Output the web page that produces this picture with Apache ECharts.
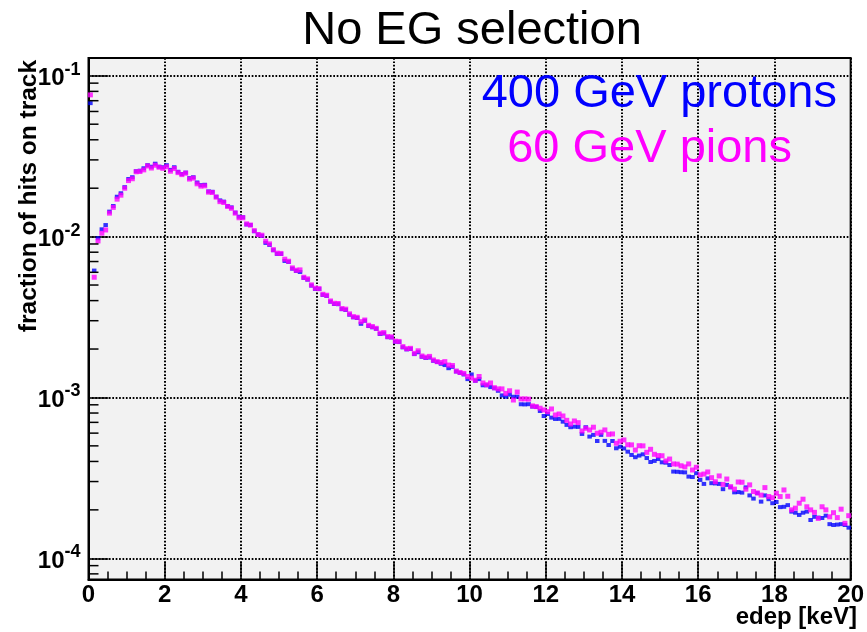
<!DOCTYPE html>
<html>
<head>
<meta charset="utf-8">
<title>No EG selection</title>
<script src="https://cdn.jsdelivr.net/npm/echarts@6/dist/echarts.min.js"></script>
<style>
  html, body { margin: 0; padding: 0; background: #fff; }
  #chart { width: 867px; height: 632px; }
</style>
</head>
<body>
<div id="chart"></div>
<script>
// histogram bins: 200 bins of 0.1 keV from 0 to 20 keV
const binWidth = 0.1

// 400 GeV protons (blue)
const protons = [
  0.0676, 0.00615, 0.00977, 0.0111, 0.0118, 0.0143, 0.0155, 0.0177, 0.0186, 0.0203,
  0.0228, 0.0234, 0.0255, 0.0257, 0.0266, 0.0278, 0.0272, 0.0284, 0.0272, 0.0270,
  0.0278, 0.0260, 0.0270, 0.0253, 0.0245, 0.0250, 0.0231, 0.0234, 0.0217, 0.0209,
  0.0210, 0.0191, 0.0190, 0.0177, 0.0168, 0.0165, 0.0155, 0.0152, 0.0141, 0.0133,
  0.0132, 0.0119, 0.0118, 0.0108, 0.0103, 0.0101, 0.00914, 0.00888, 0.00823, 0.00781,
  0.00780, 0.00706, 0.00696, 0.00632, 0.00612, 0.00603, 0.00554, 0.00540, 0.00496, 0.00473,
  0.00472, 0.00434, 0.00428, 0.00394, 0.00381, 0.00380, 0.00354, 0.00350, 0.00327, 0.00315,
  0.00312, 0.00287, 0.00300, 0.00278, 0.00273, 0.00267, 0.00248, 0.00250, 0.00237, 0.00236,
  0.00222, 0.00221, 0.00205, 0.00199, 0.00200, 0.00186, 0.00191, 0.00179, 0.00176, 0.00177,
  0.00169, 0.00166, 0.00162, 0.00159, 0.00152, 0.00155, 0.00145, 0.00142, 0.00139, 0.00130,
  0.00139, 0.00127, 0.00130, 0.00119, 0.00119, 0.00116, 0.00114, 0.00110, 0.00103, 0.00101,
  0.00104, 0.00101, 0.00101, 0.000907, 0.000905, 0.000908, 0.000877, 0.000873, 0.000824, 0.000767,
  0.000789, 0.000749, 0.000735, 0.000736, 0.000707, 0.000675, 0.000653, 0.000658, 0.000656, 0.000593,
  0.000653, 0.000571, 0.000585, 0.000536, 0.000585, 0.000537, 0.000506, 0.000536, 0.000483, 0.000494,
  0.000482, 0.000460, 0.000439, 0.000425, 0.000435, 0.000443, 0.000420, 0.000397, 0.000403, 0.000414,
  0.000395, 0.000393, 0.000380, 0.000346, 0.000345, 0.000343, 0.000342, 0.000322, 0.000320, 0.000338,
  0.000307, 0.000290, 0.000314, 0.000293, 0.000292, 0.000290, 0.000269, 0.000286, 0.000276, 0.000257,
  0.000258, 0.000256, 0.000276, 0.000246, 0.000235, 0.000254, 0.000225, 0.000246, 0.000233, 0.000220,
  0.000224, 0.000208, 0.000209, 0.000214, 0.000195, 0.000192, 0.000186, 0.000192, 0.000195, 0.000173,
  0.000181, 0.000179, 0.000178, 0.000184, 0.000163, 0.000161, 0.000162, 0.000163, 0.000161, 0.000155
]

// 60 GeV pions (magenta)
const pions = [
  0.0761, 0.00559, 0.00940, 0.0105, 0.0110, 0.0140, 0.0152, 0.0171, 0.0181, 0.0200,
  0.0223, 0.0229, 0.0253, 0.0254, 0.0260, 0.0275, 0.0267, 0.0278, 0.0270, 0.0266,
  0.0272, 0.0255, 0.0265, 0.0250, 0.0243, 0.0248, 0.0228, 0.0231, 0.0213, 0.0206,
  0.0207, 0.0189, 0.0188, 0.0176, 0.0165, 0.0163, 0.0154, 0.0150, 0.0140, 0.0131,
  0.0131, 0.0120, 0.0118, 0.0109, 0.0103, 0.0102, 0.00936, 0.00901, 0.00830, 0.00789,
  0.00786, 0.00724, 0.00703, 0.00639, 0.00618, 0.00621, 0.00559, 0.00546, 0.00501, 0.00478,
  0.00475, 0.00438, 0.00432, 0.00398, 0.00385, 0.00384, 0.00357, 0.00354, 0.00331, 0.00318,
  0.00315, 0.00296, 0.00303, 0.00281, 0.00276, 0.00269, 0.00251, 0.00253, 0.00239, 0.00238,
  0.00224, 0.00223, 0.00207, 0.00201, 0.00202, 0.00188, 0.00195, 0.00181, 0.00178, 0.00180,
  0.00171, 0.00167, 0.00165, 0.00167, 0.00159, 0.00158, 0.00146, 0.00143, 0.00141, 0.00135,
  0.00132, 0.00128, 0.00135, 0.00123, 0.00120, 0.00123, 0.00115, 0.00113, 0.00113, 0.00106,
  0.00110, 0.000964, 0.00108, 0.000979, 0.000980, 0.000976, 0.000886, 0.000877, 0.000857, 0.000836,
  0.000816, 0.000848, 0.000778, 0.000789, 0.000767, 0.000721, 0.000684, 0.000714, 0.000697, 0.000619,
  0.000643, 0.000628, 0.000653, 0.000599, 0.000608, 0.000628, 0.000590, 0.000593, 0.000519, 0.000534,
  0.000544, 0.000508, 0.000507, 0.000471, 0.000501, 0.000500, 0.000456, 0.000476, 0.000443, 0.000435,
  0.000434, 0.000403, 0.000414, 0.000386, 0.000385, 0.000376, 0.000370, 0.000386, 0.000354, 0.000368,
  0.000330, 0.000334, 0.000344, 0.000317, 0.000299, 0.000325, 0.000288, 0.000311, 0.000279, 0.000269,
  0.000298, 0.000297, 0.000269, 0.000286, 0.000260, 0.000255, 0.000247, 0.000275, 0.000242, 0.000238,
  0.000254, 0.000242, 0.000266, 0.000243, 0.000200, 0.000205, 0.000220, 0.000233, 0.000209, 0.000200,
  0.000193, 0.000177, 0.000209, 0.000200, 0.000181, 0.000192, 0.000179, 0.000202, 0.000165, 0.000184
]

// minor ticks of the log y axis (2..9 x 10^n)
const yMinorTicks = [
  8e-5, 9e-5,
  2e-4, 3e-4, 4e-4, 5e-4, 6e-4, 7e-4, 8e-4, 9e-4,
  2e-3, 3e-3, 4e-3, 5e-3, 6e-3, 7e-3, 8e-3, 9e-3,
  2e-2, 3e-2, 4e-2, 5e-2, 6e-2, 7e-2, 8e-2, 9e-2
]

const yRange = [7.38e-5, 0.129]
const xRange = [0, 20]

const FONT = "'Liberation Sans', Arial, Helvetica, sans-serif"

const binCenters = protons.map((_, i) => +((i + 0.5) * binWidth).toFixed(2))
const toPoints = (values) => values.map((v, i) => [binCenters[i], v])

const chart = echarts.init(document.getElementById('chart'), null, { renderer: 'canvas' })

const dotted = { color: '#000', width: 2, type: [1.7, 1.7] }

chart.setOption({
  animation: false,
  backgroundColor: '#fff',
  grid: {
    left: 88.5,
    right: 12,
    top: 58,
    bottom: 52.5,
    show: true,
    backgroundColor: '#f2f2f2',
    borderColor: '#000',
    borderWidth: 2
  },
  xAxis: {
    type: 'value',
    min: xRange[0],
    max: xRange[1],
    interval: 2,
    axisLine: { show: true, lineStyle: { color: '#000', width: 2 } },
    axisTick: { show: true, inside: true, length: 17, lineStyle: { color: '#000', width: 1.5 } },
    minorTick: { show: true, splitNumber: 4, length: 8, lineStyle: { color: '#000', width: 1.5 } },
    splitLine: { show: true, lineStyle: dotted },
    axisLabel: {
      color: '#000',
      fontFamily: FONT,
      fontWeight: 'bold',
      fontSize: 24,
      margin: 4
    }
  },
  yAxis: {
    type: 'log',
    logBase: 10,
    min: yRange[0],
    max: yRange[1],
    axisLine: { show: true, lineStyle: { color: '#000', width: 2 } },
    axisTick: { show: true, inside: true, length: 20, lineStyle: { color: '#000', width: 1.5 } },
    splitLine: { show: true, lineStyle: dotted },
    axisLabel: {
      margin: 8,
      formatter: (v) => {
        const e = Math.log10(v)
        if (Math.abs(e - Math.round(e)) > 1e-6) return ''
        return '{b|10}{s|' + Math.round(e) + '}'
      },
      rich: {
        b: { fontFamily: FONT, fontWeight: 'bold', fontSize: 24, color: '#000', verticalAlign: 'bottom' },
        s: { fontFamily: FONT, fontWeight: 'bold', fontSize: 18, color: '#000', verticalAlign: 'top', padding: [0, 0, 12, 0] }
      }
    }
  },
  graphic: [
    {
      type: 'text', x: 472, y: 31,
      style: { text: 'No EG selection', font: '47px ' + FONT, fill: '#000', align: 'center', verticalAlign: 'middle' }
    },
    {
      type: 'text', x: 837, y: 94, z: 100,
      style: { text: '400 GeV protons', font: '47px ' + FONT, fill: '#0000ff', align: 'right', verticalAlign: 'middle' }
    },
    {
      type: 'text', x: 792, y: 149, z: 100,
      style: { text: '60 GeV pions', font: '47px ' + FONT, fill: '#ff00ff', align: 'right', verticalAlign: 'middle' }
    },
    {
      type: 'text', x: 29, y: 196, rotation: Math.PI / 2,
      style: { text: 'fraction of hits on track', font: 'bold 24.5px ' + FONT, fill: '#000', align: 'center', verticalAlign: 'middle' }
    },
    {
      type: 'text', x: 857, y: 617,
      style: { text: 'edep [keV]', font: 'bold 24px ' + FONT, fill: '#000', align: 'right', verticalAlign: 'middle' }
    }
  ],
  series: [
    {
      name: '400 GeV protons',
      type: 'scatter',
      symbol: 'rect',
      symbolSize: [4.5, 4],
      itemStyle: { color: '#0000ff' },
      data: toPoints(protons)
    },
    {
      name: '60 GeV pions',
      type: 'scatter',
      symbol: 'rect',
      symbolSize: 5,
      itemStyle: { color: '#ff00ff' },
      data: toPoints(pions)
    },
    {
      type: 'custom',
      silent: true,
      clip: false,
      z: 5,
      data: yMinorTicks.map(v => [0, v]),
      renderItem: (params, api) => {
        const p = api.coord([0, api.value(1)])
        return {
          type: 'line',
          shape: { x1: p[0], y1: p[1], x2: p[0] + 10, y2: p[1] },
          style: { stroke: '#000', lineWidth: 1.5 }
        }
      }
    }
  ]
})
</script>
</body>
</html>
